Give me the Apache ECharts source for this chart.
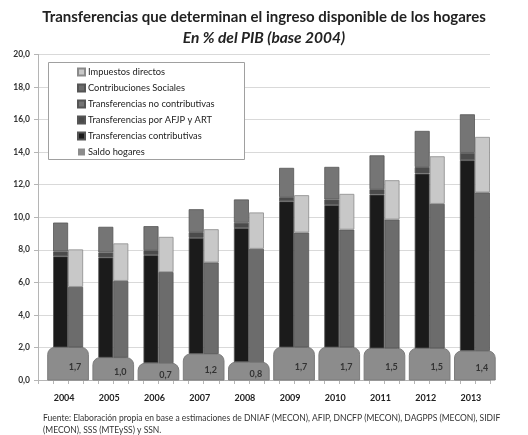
<!DOCTYPE html>
<html>
<head>
<meta charset="utf-8">
<script src="https://cdn.jsdelivr.net/npm/echarts@6/dist/echarts.min.js"></script>
<style>
  html, body { margin: 0; padding: 0; background: #fff; }
  #chart { width: 528px; height: 435px; }
</style>
</head>
<body>
<div id="chart"></div>
<script>
// datos (% del PIB)
const anios = ["2004", "2005", "2006", "2007", "2008", "2009", "2010", "2011", "2012", "2013"];
// altura dibujada del bloque "Saldo hogares" y su etiqueta
const saldoBloque = [2.0, 1.37, 1.03, 1.6, 1.09, 2.0, 2.0, 1.94, 1.94, 1.78];
const saldoHogares = [1.7, 1.0, 0.7, 1.2, 0.8, 1.7, 1.7, 1.5, 1.5, 1.4];
// barra izquierda
const transfContributivas = [5.6, 6.16, 6.64, 7.13, 8.24, 8.98, 8.74, 9.45, 10.74, 11.72];
const transfAfjp = [0.3, 0.3, 0.3, 0.35, 0.33, 0.25, 0.35, 0.33, 0.4, 0.45];
const transfNoContributivas = [1.77, 1.58, 1.48, 1.41, 1.43, 1.8, 2.0, 2.08, 2.22, 2.37];
// barra derecha
const contribSociales = [3.72, 4.72, 5.6, 5.62, 6.97, 7.06, 7.24, 7.92, 8.88, 9.74];
const impuestosDirectos = [2.3, 2.3, 2.16, 2.04, 2.23, 2.29, 2.19, 2.41, 2.92, 3.41];
const ticksY = [0, 2, 4, 6, 8, 10, 12, 14, 16, 18, 20];

const FONT = "Lato, 'DejaVu Sans', sans-serif";
const coma = v => v.toFixed(1).replace(".", ",");

const borde = { borderColor: "#555", borderWidth: 0.8 };

const chart = echarts.init(document.getElementById("chart"), null, { renderer: "canvas" });

const options = {
  animation: false,
  backgroundColor: "#fff",
  textStyle: { fontFamily: FONT },
  title: [
    {
      text: "Transferencias que determinan el ingreso disponible de los hogares",
      left: "center",
      top: 5,
      textStyle: { fontSize: 15, fontWeight: "bold", color: "#222", fontFamily: FONT },
    },
    {
      text: "En % del PIB (base 2004)",
      left: "center",
      top: 25,
      textStyle: { fontSize: 15.5, fontWeight: "bold", fontStyle: "italic", color: "#222", fontFamily: FONT },
    },
    {
      text: "Fuente: Elaboración propia en base a estimaciones de DNIAF (MECON), AFIP, DNCFP (MECON), DAGPPS (MECON), SIDIF\n(MECON), SSS (MTEySS) y SSN.",
      left: 38,
      top: 407,
      textStyle: { fontSize: 8.5, fontWeight: "normal", color: "#333", lineHeight: 12, fontFamily: FONT },
    },
  ],
  grid: { left: 38, right: 38, top: 54.4, bottom: 55 },
  legend: {
    orient: "vertical",
    left: 72,
    top: 61,
    itemWidth: 7,
    itemHeight: 7,
    itemGap: 4,
    icon: "rect",
    textStyle: { fontSize: 9.3, color: "#222", lineHeight: 12, fontFamily: FONT, padding: [0, 0, 0, -2] },
    data: [
      "Impuestos directos",
      "Contribuciones Sociales",
      "Transferencias no contributivas",
      "Transferencias por AFJP y ART",
      "Transferencias contributivas",
      "Saldo hogares",
    ],
  },
  graphic: [
    {
      type: "rect",
      z: 3,
      shape: { x: 48.5, y: 62.5, width: 196, height: 97 },
      style: { fill: "#fff", stroke: "#a0a0a0", lineWidth: 1 },
    },
  ],
  xAxis: [
    {
      type: "category",
      data: anios,
      axisLine: { lineStyle: { color: "#b5b5b5" } },
      axisTick: { show: false },
      axisLabel: { fontSize: 9, fontWeight: "bold", color: "#222", margin: 14, padding: [0, 0, 0, 7], fontFamily: FONT },
    },
    {
      type: "category",
      data: new Array(30).fill(""),
      position: "bottom",
      axisLine: { show: false },
      axisTick: { show: true, length: 4, lineStyle: { color: "#b5b5b5" } },
      axisLabel: { show: false },
    },
  ],
  yAxis: {
    type: "value",
    min: ticksY[0],
    max: ticksY[ticksY.length - 1],
    interval: 2,
    axisLine: { show: true, lineStyle: { color: "#b5b5b5" } },
    axisTick: { show: true, length: 4, lineStyle: { color: "#b5b5b5" } },
    splitLine: { lineStyle: { color: "#d9d9d9" } },
    axisLabel: { fontSize: 8.5, fontWeight: "bold", color: "#333", margin: 8, formatter: coma, fontFamily: FONT },
  },
  series: [
    // hueco a la izquierda de cada par de barras
    { name: "hueco", type: "bar", stack: "hueco", barWidth: 15, barGap: "0%", data: anios.map(() => 0), silent: true },
    { name: "baseIzq", type: "bar", stack: "izq", barWidth: 15, data: saldoBloque, itemStyle: { color: "transparent" }, silent: true },
    { name: "Transferencias contributivas", type: "bar", stack: "izq", barWidth: 15, data: transfContributivas, itemStyle: { color: "#1b1b1b", ...borde } },
    { name: "Transferencias por AFJP y ART", type: "bar", stack: "izq", barWidth: 15, data: transfAfjp, itemStyle: { color: "#4b4b4b", ...borde } },
    { name: "Transferencias no contributivas", type: "bar", stack: "izq", barWidth: 15, data: transfNoContributivas, itemStyle: { color: "#757575", ...borde } },
    { name: "baseDer", type: "bar", stack: "der", barWidth: 15, data: saldoBloque, itemStyle: { color: "transparent" }, silent: true },
    { name: "Contribuciones Sociales", type: "bar", stack: "der", barWidth: 15, data: contribSociales, itemStyle: { color: "#6c6c6c", ...borde } },
    { name: "Impuestos directos", type: "bar", stack: "der", barWidth: 15, data: impuestosDirectos, itemStyle: { color: "#c8c8c8", borderColor: "#8a8a8a", borderWidth: 0.8 } },
    {
      name: "Saldo hogares",
      type: "custom",
      itemStyle: { color: "#8c8c8c" },
      data: saldoBloque.map((v, i) => [i, v, saldoHogares[i]]),
      renderItem: (params, api) => {
        const i = api.value(0);
        const base = api.coord([i, 0]);
        const top = api.coord([i, api.value(1)])[1];
        const band = api.size([1, 0])[0];
        const x0 = base[0] - 0.285 * band;
        const x1 = base[0] + 0.615 * band;
        return {
          type: "group",
          children: [
            {
              type: "rect",
              shape: { x: x0, y: top, width: x1 - x0, height: base[1] - top, r: [7, 7, 0, 0] },
              style: { fill: "#8c8c8c", stroke: "#7c7c7c", lineWidth: 1 },
            },
            {
              type: "text",
              style: {
                text: coma(api.value(2)),
                x: base[0] + 0.32 * band,
                y: (top + base[1]) / 2 + 3,
                align: "center",
                verticalAlign: "middle",
                font: "bold 9px " + FONT,
                fill: "#333",
              },
            },
          ],
        };
      },
    },
  ],
};

chart.setOption(options);
</script>
</body>
</html>
